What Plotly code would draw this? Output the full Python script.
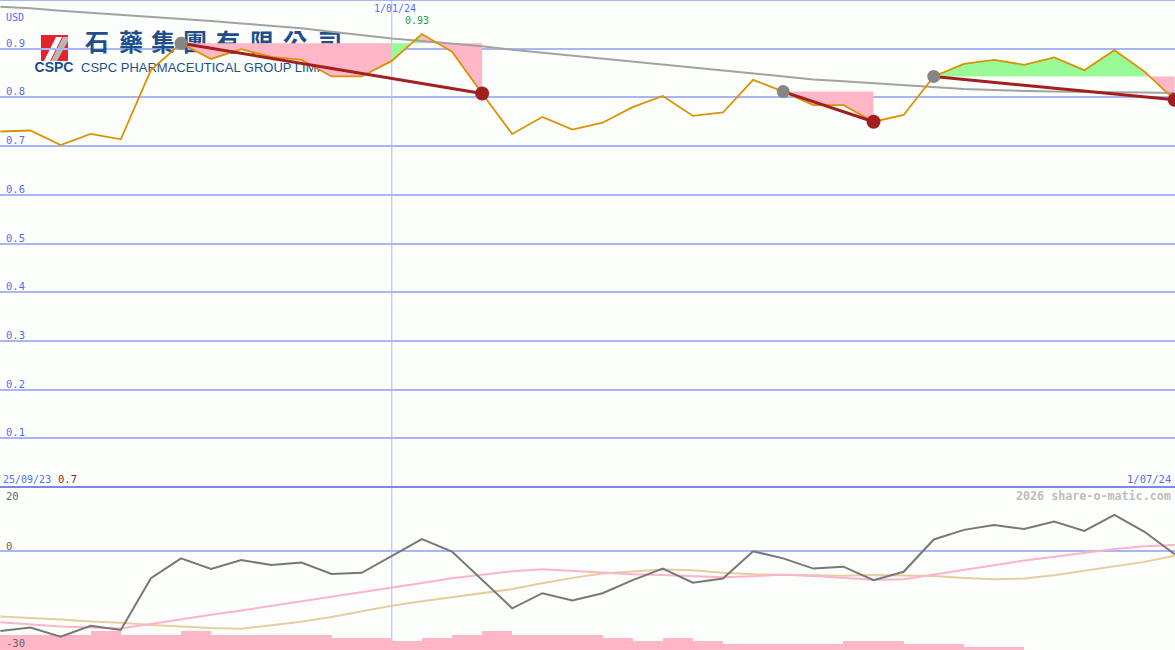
import plotly.graph_objects as go
import pandas as pd

W, H = 1175, 650
BG = "#FCFEFC"

# ---------------- data ----------------
DATES = pd.date_range("2023-10-02", periods=40, freq="7D")

CLOSE = [0.730, 0.732, 0.702, 0.725, 0.714, 0.856, 0.911, 0.879, 0.899, 0.883,
         0.877, 0.843, 0.843, 0.875, 0.930, 0.894, 0.808, 0.725, 0.760, 0.734,
         0.748, 0.780, 0.803, 0.762, 0.769, 0.836, 0.812, 0.784, 0.784, 0.750,
         0.764, 0.843, 0.869, 0.877, 0.867, 0.882, 0.856, 0.897, 0.853, 0.795]

MA_LONG = [0.986, 0.983, 0.978, 0.974, 0.970, 0.966, 0.962, 0.957, 0.952, 0.947,
           0.942, 0.935, 0.928, 0.921, 0.916, 0.911, 0.905, 0.898, 0.892, 0.886,
           0.880, 0.874, 0.868, 0.861, 0.855, 0.849, 0.843, 0.837, 0.833, 0.829,
           0.824, 0.820, 0.817, 0.815, 0.813, 0.812, 0.811, 0.811, 0.810, 0.809]

OSC = [-25.0, -23.9, -26.8, -23.4, -24.7, -8.5, -2.3, -5.6, -2.8, -4.4,
       -3.6, -7.2, -6.8, -1.6, 3.7, -0.2, -9.0, -17.9, -13.2, -15.5,
       -13.2, -9.1, -5.5, -9.9, -8.6, -0.1, -2.3, -5.5, -4.9, -9.1,
       -6.5, 3.6, 6.6, 8.1, 6.9, 9.2, 6.3, 11.3, 6.0, -1.0]

OSC_FAST = [-22.3, -23.0, -23.6, -23.9, -24.2, -22.8, -21.3, -19.9, -18.6, -17.2,
            -15.8, -14.4, -13.0, -11.6, -10.0, -8.5, -7.3, -6.3, -5.7, -6.2,
            -6.9, -7.3, -7.5, -7.9, -8.2, -7.9, -7.4, -7.8, -8.4, -9.0,
            -8.8, -7.3, -5.8, -4.4, -3.0, -1.8, -0.6, 0.6, 1.5, 1.9]

OSC_SLOW = [-20.5, -20.9, -21.4, -22.0, -22.4, -23.1, -23.6, -24.1, -24.3, -23.3,
            -22.1, -20.6, -18.9, -17.1, -15.7, -14.5, -13.3, -11.9, -10.1, -8.4,
            -7.0, -6.3, -5.8, -6.0, -6.8, -7.3, -7.4, -7.7, -7.7, -7.5,
            -7.6, -7.8, -8.4, -8.8, -8.6, -7.6, -6.2, -4.8, -3.4, -1.5]

VOLUME = [15, 15, 15, 19, 15, 15, 19, 15, 15, 15,
          15, 12, 12, 9, 12, 15, 19, 15, 15, 15,
          12, 9, 12, 9, 6, 6, 6, 6, 9, 9,
          6, 6, 3, 3, 0, 0, 0, 0, 0, 0]

TREND_START = [6, 26, 31]
TREND_END = [16, 29, 39]

PRICE_TICKS = [0.1, 0.2, 0.3, 0.4, 0.5, 0.6, 0.7, 0.8, 0.9]
PRICE_TICK_LABELS = ["0.1", "0.2", "0.3", "0.4", "0.5", "0.6", "0.7", "0.8", "0.9"]
OSC_TICKS = [20, 0, -30]
OSC_TICK_LABELS = ["20", "0", "-30"]

CURRENCY = "USD"
HIGH_LABEL = "0.93"
START_LABEL = "25/09/23"
START_PRICE_LABEL = "0.7"
MID_DATE = "2024-01-01"
MID_LABEL = "1/01/24"
END_LABEL = "1/07/24"
WATERMARK = "2026 share-o-matic.com"
LOGO_CN = ["石", "藥", "集", "團", "有", "限", "公", "司"]
LOGO_EN = "CSPC PHARMACEUTICAL GROUP LIMI"
LOGO_MARK = "CSPC"

# ---------------- layout helpers ----------------
X_START = pd.Timestamp("2023-10-01 22:00")
X_END = pd.Timestamp("2024-07-01 02:00")
SPLIT = 163 / H          # bottom panel height fraction
TOP_PX = 487             # top panel height in px

def px2date(px):
    return X_START + (X_END - X_START) * (px / W)

def py2price(py):
    return 1 - py / TOP_PX

def pp(x, y):
    return x / W, 1 - y / H

BLUE = "#5A6CF0"
GRID = "#A9B5F5"
PINK = "#FFB6C6"
GREEN = "#98FB98"
ORANGE = "#DA9200"
DARKRED = "#A31F1F"
LOGO_BLUE = "#1F4E8C"
MONO = "DejaVu Sans Mono"

fig = go.Figure()

# logo text (drawn first so fills cover it)
cn_px = [97, 131, 163, 195, 228, 262, 295, 330]
fig.add_trace(go.Scatter(
    x=[px2date(p) for p in cn_px], y=[py2price(45)] * len(cn_px),
    mode="text", text=LOGO_CN, textposition="middle center",
    textfont=dict(family="Noto Sans CJK TC", size=24, color=LOGO_BLUE, weight="bold"),
    hoverinfo="skip", showlegend=False, xaxis="x", yaxis="y"))
fig.add_trace(go.Scatter(
    x=[px2date(81)], y=[py2price(69)],
    mode="text", text=[LOGO_EN], textposition="middle right",
    textfont=dict(family="Liberation Sans", size=13, color=LOGO_BLUE),
    hoverinfo="skip", showlegend=False, xaxis="x", yaxis="y"))
fig.add_trace(go.Scatter(
    x=[px2date(54)], y=[py2price(68)],
    mode="text", text=[LOGO_MARK], textposition="middle center",
    textfont=dict(family="Liberation Sans", size=14, color=LOGO_BLUE, weight="bold"),
    hoverinfo="skip", showlegend=False, xaxis="x", yaxis="y"))

# fills between trend start level and price
for s, e in zip(TREND_START, TREND_END):
    level = CLOSE[s]
    runs = []
    for k in range(s, e):
        col = GREEN if CLOSE[k + 1] > level else PINK
        if runs and runs[-1][0] == col:
            runs[-1][2] = k + 1
        else:
            runs.append([col, k, k + 1])
    for col, a, b in runs:
        xs = [DATES[a]] + [DATES[i] for i in range(a, b + 1)] + [DATES[b], DATES[a]]
        ys = [level] + [CLOSE[i] for i in range(a, b + 1)] + [level, level]
        fig.add_trace(go.Scatter(x=xs, y=ys, mode="none", fill="toself",
                                 fillcolor=col, hoverinfo="skip", showlegend=False,
                                 xaxis="x", yaxis="y"))

# long moving average
fig.add_trace(go.Scatter(x=DATES, y=MA_LONG, mode="lines",
                         line=dict(color="#A2A2A2", width=2),
                         showlegend=False, xaxis="x", yaxis="y"))
# price
fig.add_trace(go.Scatter(x=DATES, y=CLOSE, mode="lines",
                         line=dict(color=ORANGE, width=1.8),
                         showlegend=False, xaxis="x", yaxis="y"))
# trend lines + markers
for s, e in zip(TREND_START, TREND_END):
    fig.add_trace(go.Scatter(x=[DATES[s], DATES[e]], y=[CLOSE[s], CLOSE[e]],
                             mode="lines", line=dict(color=DARKRED, width=3),
                             showlegend=False, xaxis="x", yaxis="y"))
fig.add_trace(go.Scatter(x=[DATES[s] for s in TREND_START],
                         y=[CLOSE[s] for s in TREND_START], mode="markers",
                         marker=dict(color="#858585", size=13),
                         showlegend=False, xaxis="x", yaxis="y"))
fig.add_trace(go.Scatter(x=[DATES[e] for e in TREND_END],
                         y=[CLOSE[e] for e in TREND_END], mode="markers",
                         marker=dict(color=DARKRED, size=14),
                         showlegend=False, xaxis="x", yaxis="y"))

# volume bars (bottom base axis)
fig.add_trace(go.Bar(x=[d + pd.Timedelta(days=3.5) for d in DATES], y=VOLUME,
                     width=7 * 24 * 3600 * 1000, marker=dict(color=PINK, line=dict(width=0)),
                     showlegend=False, xaxis="x2", yaxis="y3"))
# oscillator lines
fig.add_trace(go.Scatter(x=DATES, y=OSC_SLOW, mode="lines",
                         line=dict(color="#E6CD9C", width=2),
                         showlegend=False, xaxis="x2", yaxis="y2"))
fig.add_trace(go.Scatter(x=DATES, y=OSC_FAST, mode="lines",
                         line=dict(color="#FFB3C8", width=2),
                         showlegend=False, xaxis="x2", yaxis="y2"))
fig.add_trace(go.Scatter(x=DATES, y=OSC, mode="lines",
                         line=dict(color="#777777", width=2),
                         showlegend=False, xaxis="x2", yaxis="y2"))

shapes = []
# logo background and mark
x0, y0 = pp(35, 77); x1, y1 = pp(346, 29)
shapes.append(dict(type="rect", xref="paper", yref="paper", x0=x0, x1=x1, y0=y0, y1=y1,
                   fillcolor=BG, line=dict(width=0), layer="between"))
x0, y0 = pp(41, 61); x1, y1 = pp(68, 35)
shapes.append(dict(type="rect", xref="paper", yref="paper", x0=x0, x1=x1, y0=y0, y1=y1,
                   fillcolor="#E5232B", line=dict(width=0), layer="between"))

def poly(points):
    pts = [pp(x, y) for x, y in points]
    return "M " + " L ".join(f"{a:.5f},{b:.5f}" for a, b in pts) + " Z"

shapes.append(dict(type="path", xref="paper", yref="paper",
                   path=poly([(51, 61), (57, 61), (68, 41), (68, 37), (63, 37)]),
                   fillcolor="#B8B8B8", line=dict(width=0), layer="between"))
shapes.append(dict(type="path", xref="paper", yref="paper",
                   path=poly([(44, 61), (50, 61), (62, 37), (56, 37)]),
                   fillcolor="#FFFFFF", line=dict(width=0), layer="between"))
# vertical date line
shapes.append(dict(type="line", xref="x", yref="paper", x0=MID_DATE, x1=MID_DATE,
                   y0=0, y1=1, line=dict(color=GRID, width=1), layer="between"))
# top border, separator, oscillator zero line
shapes.append(dict(type="line", xref="paper", yref="paper", x0=0, x1=1, y0=1, y1=1,
                   line=dict(color=GRID, width=2), layer="between"))
shapes.append(dict(type="line", xref="paper", yref="paper", x0=0, x1=1, y0=SPLIT, y1=SPLIT,
                   line=dict(color="#7B87E8", width=2), layer="between"))
shapes.append(dict(type="line", xref="paper", yref="y2", x0=0, x1=1, y0=0, y1=0,
                   line=dict(color=GRID, width=2), layer="between"))

ann = []
def add_ann(text, xpx, ypx, color, size=10, xanchor="left", bold=False, family=MONO):
    x, y = pp(xpx, ypx)
    ann.append(dict(text=f"<b>{text}</b>" if bold else text, x=x, y=y, xref="paper", yref="paper",
                    xanchor=xanchor, yanchor="middle", showarrow=False,
                    font=dict(family=family, size=size, color=color)))

for v, lab in zip(PRICE_TICKS, PRICE_TICK_LABELS):
    ann.append(dict(text=lab, x=4 / W, y=v, xref="paper", yref="y", xanchor="left",
                    yanchor="bottom", showarrow=False, yshift=-2,
                    font=dict(family=MONO, size=10.5, color=BLUE)))
osc_shift = {20: (-1, "top"), 0: (-3, "bottom"), -30: (-4, "bottom")}
for v, lab in zip(OSC_TICKS, OSC_TICK_LABELS):
    ys, ya = osc_shift[v]
    ann.append(dict(text=lab, x=4 / W, y=v, xref="paper", yref="y2", xanchor="left",
                    yanchor=ya, showarrow=False, yshift=ys,
                    font=dict(family=MONO, size=10.5, color="#666666")))

add_ann(CURRENCY, 4, 17, BLUE)
add_ann(MID_LABEL, 395, 9, BLUE, xanchor="center")
add_ann(HIGH_LABEL, 403, 20, "#2E9A2E")
add_ann(START_LABEL, 1, 479, BLUE, size=10)
add_ann(START_PRICE_LABEL, 56, 479, "#A01818", size=10.5)
add_ann(END_LABEL, 1173, 479, BLUE, size=10.5, xanchor="right")
add_ann(WATERMARK, 1173, 496, "#BDBDBD", size=11.7, xanchor="right", bold=True)

fig.update_layout(
    width=W, height=H, margin=dict(l=0, r=0, t=0, b=0),
    paper_bgcolor=BG, plot_bgcolor=BG, showlegend=False, bargap=0,
    xaxis=dict(type="date", range=[X_START, X_END], domain=[0, 1], anchor="y",
               visible=False, showgrid=False, zeroline=False),
    xaxis2=dict(type="date", range=[X_START, X_END], domain=[0, 1], anchor="y3",
                matches="x", visible=False, showgrid=False, zeroline=False),
    yaxis=dict(domain=[SPLIT, 1], range=[0, 1], tickvals=PRICE_TICKS, showticklabels=False,
               showgrid=True, gridcolor=GRID, gridwidth=2, zeroline=False, ticks=""),
    yaxis3=dict(domain=[0, SPLIT], range=[0, 163], visible=False, showgrid=False,
                zeroline=False),
    yaxis2=dict(overlaying="y3", range=[-30.94, 20], visible=False, showgrid=False,
                zeroline=False),
    shapes=shapes, annotations=ann,
)

fig.write_html(
    "out.html",
    config={"displayModeBar": False},
    post_script="document.body.style.margin='0';document.body.style.padding='0';"
                "document.body.style.overflow='hidden';",
)
